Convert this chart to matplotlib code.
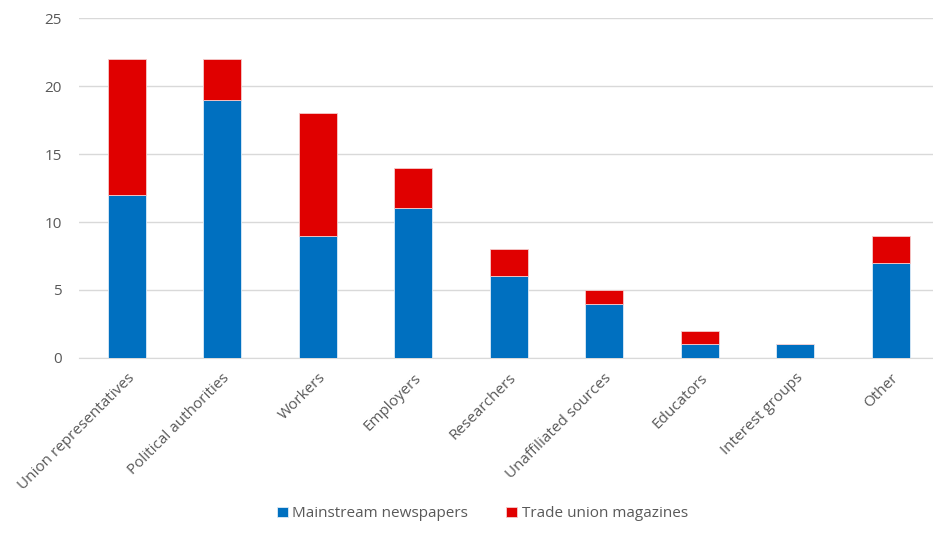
import numpy as np
import matplotlib
matplotlib.use('Agg')
from matplotlib import pyplot as plt

categories = ['Union representatives', 'Political authorities', 'Workers', 'Employers',
              'Researchers', 'Unaffiliated sources', 'Educators', 'Interest groups', 'Other']
mainstream = [12, 19, 9, 11, 6, 4, 1, 1, 7]
trade_union = [10, 3, 9, 3, 2, 1, 1, 0, 2]

blue = '#0070C0'
red = '#E00000'
grey = '#595959'

plt.rcParams['font.family'] = ['Open Sans', 'DejaVu Sans']

fig = plt.figure(figsize=(9.33, 5.35), dpi=100)
# axes runs a little past the right edge of the figure, like the original
ax = fig.add_axes([0.0847, 0.331, 0.9212, 0.635])

x = np.arange(len(categories))
ax.bar(x, mainstream, width=0.4, color=blue, edgecolor='#DDEBF7', linewidth=0.6,
       label='Mainstream newspapers', zorder=3)
ax.bar(x, trade_union, width=0.4, bottom=mainstream, color=red, edgecolor='#F4CCCC',
       linewidth=0.6, label='Trade union magazines', zorder=3)

ax.set_xlim(-0.5, len(categories) - 0.5)
ax.set_ylim(0, 25)
ax.set_yticks(range(0, 26, 5))
ax.yaxis.grid(True, color='#D9D9D9', linewidth=1, zorder=0)
for s in ['top', 'right', 'left']:
    ax.spines[s].set_visible(False)
ax.spines['bottom'].set_color('#D9D9D9')
ax.tick_params(axis='both', length=0, labelsize=11, labelcolor=grey)
ax.tick_params(axis='y', pad=12.5)
ax.set_xticks(x)
ax.set_xticklabels(categories, rotation=45, ha='right', rotation_mode='anchor')
ax.tick_params(axis='x', pad=9)

fig.legend(loc='lower center', bbox_to_anchor=(0.517, 0.0), ncol=2, frameon=False,
           fontsize=11, labelcolor=grey, handlelength=0.7, handleheight=0.7,
           handletextpad=0.3, columnspacing=2.5)

fig.savefig('out.png', dpi=100)
